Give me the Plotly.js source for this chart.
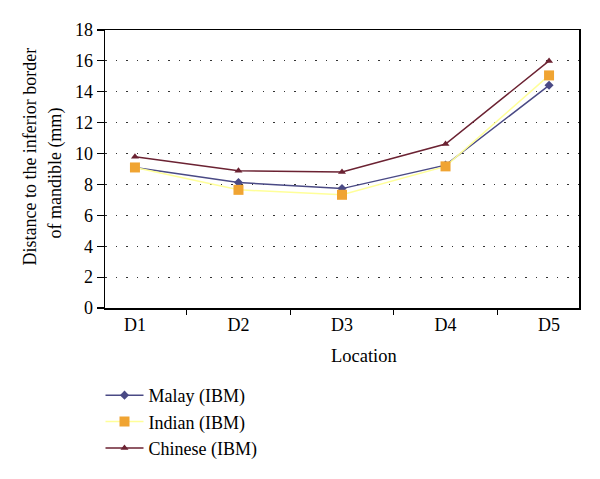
<!DOCTYPE html>
<html><head><meta charset="utf-8">
<script src="https://cdn.plot.ly/plotly-3.0.1.min.js"></script>
<style>html,body{margin:0;padding:0;background:#fff}</style>
</head><body>
<div id="chart" style="width:600px;height:479px"></div>
<script>
const locations = ["D1", "D2", "D3", "D4", "D5"];
const malay = [9.1, 8.12, 7.73, 9.25, 14.42];
const indian = [9.1, 7.65, 7.33, 9.17, 15.06];
const chinese = [9.79, 8.89, 8.8, 10.62, 16.0];
const yTicks = [0, 2, 4, 6, 8, 10, 12, 14, 16, 18];
const yTitleLines = ["Distance to the inferior border", "of mandible (mm)"];
const xTitle = "Location";

const fam = "Liberation Serif, Times New Roman, serif";
const f = (s) => ({family: fam, size: s, color: "#000"});

const traces = [
  {x: locations, y: malay, name: "Malay (IBM)", type: "scatter", mode: "lines+markers",
   line: {color: "#4a4a85", width: 1.5}, marker: {symbol: "diamond", size: 7, color: "#4a4a85"}},
  {x: locations, y: indian, name: "Indian (IBM)", type: "scatter", mode: "lines+markers",
   line: {color: "#ffff99", width: 1.5}, marker: {symbol: "square", size: 10, color: "#f0a432"}},
  {x: locations, y: chinese, name: "Chinese (IBM)", type: "scatter", mode: "lines+markers",
   line: {color: "#6b2232", width: 1.5}, marker: {symbol: "triangle-up", size: 7, color: "#6b2232"}}
];

const layout = {
  width: 600, height: 479,
  margin: {l: 105, r: 21, t: 30, b: 168},
  paper_bgcolor: "#fff", plot_bgcolor: "#fff",
  font: f(18),
  showlegend: true,
  legend: {x: -0.0095, xanchor: "left", y: -0.248, yanchor: "top", orientation: "v",
           font: f(18), tracegroupgap: 0, itemwidth: 38},
  xaxis: {
    type: "category",
    showline: true, linecolor: "#000", linewidth: 1.5, mirror: true,
    ticks: "outside", tickson: "boundaries", ticklen: 5, tickcolor: "#000", tickwidth: 1.2,
    showgrid: false, tickfont: f(18)
  },
  yaxis: {
    range: [0, 18], tickvals: yTicks, ticktext: yTicks.map(String),
    showline: true, linecolor: "#000", linewidth: 1.5, mirror: true,
    ticks: "outside", ticklen: 7, tickcolor: "#000", tickwidth: 1.2,
    showgrid: true, gridcolor: "#333", griddash: "1.5px,9px", gridwidth: 1.2,
    zeroline: false, tickfont: f(18)
  },
  annotations: [
    {text: yTitleLines[0], xref: "paper", yref: "paper", x: -0.158, y: 0.545, textangle: -90,
     showarrow: false, font: f(18), xanchor: "center", yanchor: "middle"},
    {text: yTitleLines[1], xref: "paper", yref: "paper", x: -0.104, y: 0.486, textangle: -90,
     showarrow: false, font: f(18), xanchor: "center", yanchor: "middle"},
    {text: xTitle, xref: "paper", yref: "paper", x: 0.546, y: -0.171,
     showarrow: false, font: f(18.5), xanchor: "center", yanchor: "middle"}
  ]
};

Plotly.newPlot("chart", traces, layout, {displayModeBar: false, staticPlot: true});
</script>
</body></html>
